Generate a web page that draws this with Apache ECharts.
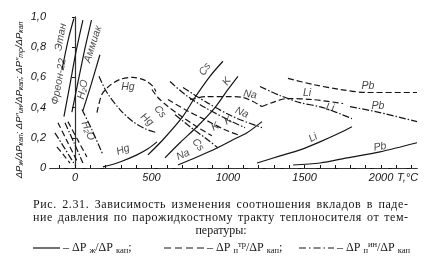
<!DOCTYPE html>
<html><head><meta charset="utf-8">
<script src="https://cdn.jsdelivr.net/npm/echarts@6/dist/echarts.min.js"></script>
<style>html,body{margin:0;padding:0;background:#fff}#c{width:424px;height:269px}</style>
</head><body><div id="c"></div>
<script>
// axis ticks
const xTickLabels = [0, 500, 1000, 1500, 2000];
const xMinorTicks = [-100, 0, 100, 200, 300, 400, 500, 600, 700, 800, 900, 1000, 1100, 1200, 1300, 1400, 1500, 1600, 1700, 1800, 1900, 2000, 2100, 2200];
const yTickLabels = [0, 0.2, 0.4, 0.6, 0.8, 1.0];

// solid: ΔPж/ΔPкап
const ethaneLiq  = [[-85,0.65],[-65,0.75],[-39,0.87],[-7,0.99]];
const freonLiq   = [[-72,0.34],[-33,0.55],[7,0.77],[52,0.98]];
const ammoniaLiq = [[-20,0.37],[20,0.57],[65,0.79],[108,0.98]];
const waterLiq   = [[52,0.38],[105,0.55],[163,0.75]];
const hgLiq      = [[183,0.007],[294,0.04],[405,0.087],[477,0.127],[536,0.173]];
const csLiq      = [[477,0.087],[575,0.187],[699,0.333],[784,0.467],[882,0.607],[967,0.707]];
const kLiq       = [[588,0.067],[686,0.167],[804,0.28],[915,0.4],[1000,0.52],[1065,0.607]];
const naLiq      = [[673,0.02],[797,0.073],[928,0.133],[1033,0.187],[1124,0.233],[1222,0.307]];
const liLiq      = [[1190,0.033],[1340,0.08],[1471,0.12],[1601,0.173],[1732,0.233],[1810,0.273]];
const pbLiq      = [[1425,0.02],[1601,0.033],[1778,0.067],[1993,0.107],[2235,0.167]];

// dashed: ΔPп(тр)/ΔPкап
const hgFr   = [[144,0.367],[176,0.487],[229,0.547],[294,0.587],[379,0.6],[458,0.58],[510,0.54],[529,0.507]];
const csFr   = [[503,0.52],[542,0.467],[608,0.407],[699,0.34],[797,0.273],[895,0.213]];
const kFr    = [[608,0.453],[719,0.387],[850,0.32],[980,0.253],[1065,0.22]];
const naFr   = [[752,0.453],[863,0.473],[993,0.473],[1098,0.467],[1222,0.407]];
const liFr   = [[1222,0.407],[1307,0.44],[1386,0.46],[1556,0.453],[1752,0.427]];
const pbFr   = [[1392,0.593],[1556,0.553],[1732,0.52],[1908,0.5],[2235,0.5]];
const lowFrA = [[-111,0.3],[-46,0.167],[20,0.033]];
const lowFrB = [[-46,0.307],[16,0.19],[78,0.073]];
const lowFrC = [[-118,0.14],[-75,0.087],[-33,0.033]];

// dash-dot: ΔPп(ин)/ΔPкап
const hgIn    = [[157,0.607],[209,0.5],[294,0.387],[379,0.307],[458,0.26],[536,0.233]];
const csIn    = [[654,0.353],[752,0.273],[850,0.2],[935,0.133]];
const kIn     = [[621,0.573],[719,0.487],[850,0.4],[1000,0.32],[1111,0.267]];
const naIn    = [[706,0.533],[863,0.433],[1033,0.34],[1222,0.267]];
const liIn    = [[1209,0.54],[1340,0.48],[1471,0.433],[1621,0.4],[1810,0.327]];
const pbIn    = [[1797,0.407],[1993,0.367],[2235,0.307]];
const lowInA  = [[-65,0.3],[-6,0.167],[52,0.033]];
const lowInB  = [[-131,0.233],[-65,0.127],[0,0.02]];
const waterIn = [[46,0.387],[111,0.253],[183,0.087]];

// curve labels
const labelTexts = ['Этан','Фреон-22','Аммиак','H₂O','H₂O','Hg','Hg','Hg','Cs','K','Na','Na','K','K','Cs','Cs','Na','Li','Li','Li','Pb','Pb','Pb'];
const labelX     = [-92,-105,118,52,85,346,471,314,850,993,1144,1091,1000,915,556,804,706,1516,1667,1556,1915,1980,1993];
const labelY     = [0.867,0.573,0.82,0.52,0.247,0.533,0.32,0.12,0.653,0.573,0.487,0.367,0.313,0.273,0.373,0.153,0.087,0.493,0.4,0.2,0.54,0.407,0.14];
const labelRot   = [80,80,72,78,-68,0,-40,20,55,55,-10,-25,30,30,-50,-50,25,0,-10,30,0,0,10];

// caption
const captionLine1 = 'Рис. 2.31. Зависимость изменения соотношения вкладов в паде-';
const captionLine2 = 'ние давления по парожидкостному тракту теплоносителя от тем-';
const captionLine3 = 'пературы:';

const INK = '#151515';
const DASH = [6, 3];
const DASHDOT = [7, 2, 1.5, 2];
function curve(data, type) {
  return {type:'line', data:data, smooth:0.3, showSymbol:false, silent:true,
    lineStyle:{color:INK, width:1.2, type:type}};
}
const series = [];
[ethaneLiq,freonLiq,ammoniaLiq,waterLiq,hgLiq,csLiq,kLiq,naLiq,liLiq,pbLiq].forEach(d=>series.push(curve(d,'solid')));
[hgFr,csFr,kFr,naFr,liFr,pbFr,lowFrA,lowFrB,lowFrC].forEach(d=>series.push(curve(d,DASH)));
[hgIn,csIn,kIn,naIn,liIn,pbIn,lowInA,lowInB,waterIn].forEach(d=>series.push(curve(d,DASHDOT)));

series.push({
  type:'scatter', symbolSize:0, silent:true,
  data: labelTexts.map((t,i)=>({value:[labelX[i],labelY[i]], label:{show:true, formatter:t, rotate:labelRot[i]}})),
  label:{position:'inside', color:INK, fontStyle:'italic', fontSize:10.5, fontFamily:'Liberation Sans'}
});

// letter-spaced, justified caption (character placement)
const CAP_FONT = '12px "Liberation Serif"';
const mctx = document.createElement('canvas').getContext('2d');
mctx.font = CAP_FONT;
function spaced(text, y, x0, x1) {
  const chars = [...text];
  const widths = chars.map(c=>mctx.measureText(c).width);
  const natural = widths.reduce((a,b)=>a+b,0);
  let units = 0;
  chars.forEach((c,i)=>{ if(i<chars.length-1) units += (c===' ' ? 4 : 1); });
  const unit = (x1 - x0 - natural) / units;
  let x = x0;
  const out = [];
  chars.forEach((c,i)=>{
    if (c !== ' ') out.push({type:'text', x:x, y:y, style:{text:c, font:CAP_FONT, fill:INK, verticalAlign:'middle'}});
    x += widths[i] + unit * (c===' ' ? 4 : 1);
  });
  return out;
}

const chart = echarts.init(document.getElementById('c'), null, {renderer:'canvas'});
const italic = {fontStyle:'italic', fontSize:11, color:INK, fontFamily:'Liberation Sans'};
const subRich = {s:{fontSize:8.5, fontFamily:'Liberation Serif', padding:[6,0,0,0]}, u:{fontSize:8.5, fontFamily:'Liberation Serif', padding:[0,0,6,0]}};
const LEG_FONT = '12px "Liberation Serif"';
chart.setOption({
  animation:false,
  backgroundColor:'#fff',
  grid:{left:50, right:7, top:17, bottom:101, containLabel:false},
  xAxis:[{
    type:'value', min:-163, max:2235,
    axisLine:{lineStyle:{color:INK, width:1.2}},
    axisTick:{show:true, inside:true, length:3, customValues:xMinorTicks, lineStyle:{color:INK}},
    axisLabel:Object.assign({customValues:xTickLabels, margin:4, formatter:v=>String(v)}, italic),
    splitLine:{show:false}
  },{
    type:'value', min:-163, max:2235, position:'top',
    axisLine:{show:true, lineStyle:{color:'#333', width:1, type:[14,4]}},
    axisTick:{show:false}, axisLabel:{show:false}, splitLine:{show:false}
  }],
  yAxis:[{
    type:'value', min:0, max:1, interval:0.2,
    axisLine:{show:true, lineStyle:{color:INK, width:1.2}},
    axisTick:{show:true, length:3, lineStyle:{color:INK}},
    axisLabel:Object.assign({margin:4, formatter:v=>v===0?'0':v.toFixed(1).replace('.',',')}, italic),
    splitLine:{show:false}
  },{
    type:'value', min:0, max:1, position:'right',
    axisLine:{show:true, lineStyle:{color:'#333', width:1}},
    axisTick:{show:false}, axisLabel:{show:false}, splitLine:{show:false}
  }],
  series: series,
  graphic: [
    {type:'text', x:19, y:100, rotation:Math.PI/2, style:{
      text:'{i|ΔP}{s|ж}{i|/ΔP}{s|кап}{i|; ΔP″}{s|ин}{i|/ΔP}{s|кап}{i|; ΔP″}{s|тр}{i|/ΔP}{s|кап}',
      align:'center', verticalAlign:'middle', fill:INK,
      rich:{i:{fontSize:9.5, fontStyle:'italic', fontFamily:'Liberation Sans', fill:INK},
            s:{fontSize:7, fontStyle:'italic', fontFamily:'Liberation Sans', fill:INK, padding:[5,0,0,0]}}
    }},
    {type:'text', x:397, y:178, style:{text:'T,°C', font:'italic 11px "Liberation Sans"', fill:INK, verticalAlign:'middle'}},
    ...spaced(captionLine1, 205, 33, 408),
    ...spaced(captionLine2, 218, 33, 408),
    {type:'text', x:221, y:231, style:{text:captionLine3, font:CAP_FONT, fill:INK, align:'center', verticalAlign:'middle'}},
    {type:'line', shape:{x1:33,y1:248,x2:60,y2:248}, style:{stroke:INK, lineWidth:1.2}},
    {type:'text', x:63, y:248, style:{text:'– ΔP {s|ж}/ΔP {s|кап};', font:LEG_FONT, fill:INK, verticalAlign:'middle', rich:subRich}},
    {type:'line', shape:{x1:164,y1:248,x2:204,y2:248}, style:{stroke:INK, lineWidth:1.2, lineDash:[7,4]}},
    {type:'text', x:207, y:248, style:{text:'– ΔP {s|п}{u|тр}/ΔP {s|кап};', font:LEG_FONT, fill:INK, verticalAlign:'middle', rich:subRich}},
    {type:'line', shape:{x1:299,y1:248,x2:334,y2:248}, style:{stroke:INK, lineWidth:1.2, lineDash:[7,3,1.5,3]}},
    {type:'text', x:337, y:248, style:{text:'– ΔP {s|п}{u|ин}/ΔP {s|кап}', font:LEG_FONT, fill:INK, verticalAlign:'middle', rich:subRich}}
  ]
});
</script></body></html>
